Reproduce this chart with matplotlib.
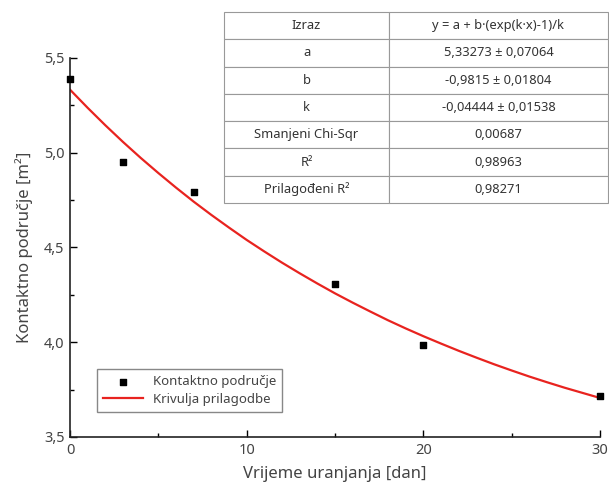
import matplotlib.pyplot as plt
from matplotlib.ticker import MultipleLocator

plt.rcParams['font.family'] = ['Noto Sans', 'DejaVu Sans']

# measured points
days = [0, 3, 7, 15, 20, 30]
area = [5.39, 4.95, 4.795, 4.305, 3.985, 3.715]

# fit curve
fit_days = list(range(0, 31))
fit_area = [5.333, 5.237, 5.145, 5.057, 4.973, 4.893, 4.816, 4.742, 4.672, 4.605,
            4.540, 4.479, 4.420, 4.364, 4.310, 4.258, 4.209, 4.162, 4.116, 4.073,
            4.032, 3.993, 3.955, 3.919, 3.884, 3.851, 3.819, 3.789, 3.760, 3.733,
            3.706]

x_ticks = [0, 10, 20, 30]
y_ticks = [3.5, 4.0, 4.5, 5.0, 5.5]
y_tick_labels = ['3,5', '4,0', '4,5', '5,0', '5,5']

table_rows = [
    ['Izraz', 'y = a + b·(exp(k·x)-1)/k'],
    ['a', '5,33273 ± 0,07064'],
    ['b', '-0,9815 ± 0,01804'],
    ['k', '-0,04444 ± 0,01538'],
    ['Smanjeni Chi-Sqr', '0,00687'],
    ['R²', '0,98963'],
    ['Prilagođeni R²', '0,98271'],
]

W, H = 609, 492
fig = plt.figure(figsize=(W / 100, H / 100), dpi=100)
ax = fig.add_axes([70 / W, 1 - 437 / H, 530 / W, 379 / H])

ax.plot(fit_days, fit_area, color='#e8231f', lw=1.6, label='Krivulja prilagodbe', zorder=2)
ax.scatter(days, area, marker='s', s=25, color='black', label='Kontaktno područje',
           zorder=3, clip_on=False)

ax.set_xlim(0, 30)
ax.set_ylim(3.5, 5.5)
ax.set_xticks(x_ticks)
ax.set_yticks(y_ticks)
ax.set_yticklabels(y_tick_labels)
ax.xaxis.set_minor_locator(MultipleLocator(5))
ax.yaxis.set_minor_locator(MultipleLocator(0.25))
ax.tick_params(direction='in', which='major', length=5, width=1, labelsize=10.5,
               labelcolor='#444444', pad=4)
ax.tick_params(direction='in', which='minor', length=3, width=1)
for s in ['top', 'right']:
    ax.spines[s].set_visible(False)
for s in ['left', 'bottom']:
    ax.spines[s].set_linewidth(1.2)
    ax.spines[s].set_color('#222222')

ax.set_xlabel('Vrijeme uranjanja [dan]', fontsize=12, color='#444444', labelpad=6)
ax.set_ylabel('Kontaktno područje [m²]', fontsize=12, color='#444444', labelpad=8)

handles, labels = ax.get_legend_handles_labels()
leg = ax.legend(handles[::-1], labels[::-1], loc='lower left',
                bbox_to_anchor=(0.051, 0.066), fancybox=False, framealpha=1,
                edgecolor='#888888', fontsize=9.5, handlelength=3,
                borderpad=0.45, labelspacing=0.35, borderaxespad=0)
for t in leg.get_texts():
    t.set_color('#444444')

# parameter table
tax = fig.add_axes([224 / W, 1 - 203 / H, 384 / W, 191 / H])
tax.axis('off')
tbl = tax.table(cellText=table_rows, bbox=[0, 0, 1, 1], cellLoc='center',
                colWidths=[165 / 384, 219 / 384])
tbl.auto_set_font_size(False)
tbl.set_fontsize(9.3)
for cell in tbl.get_celld().values():
    cell.set_edgecolor('#999999')
    cell.set_linewidth(0.8)
    cell.get_text().set_color('#333333')

fig.savefig('out.png', dpi=100)
